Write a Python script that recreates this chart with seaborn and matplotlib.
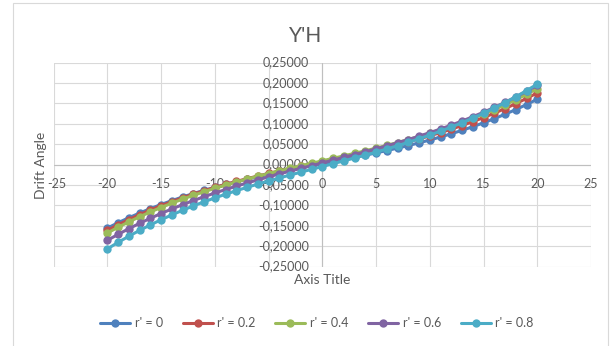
import matplotlib
matplotlib.use("Agg")
import matplotlib.pyplot as plt
from matplotlib.lines import Line2D
from matplotlib.patches import Rectangle
import pandas as pd
import seaborn as sns

# Drift angle sweep (degrees)
drift = list(range(-20, 21))

# Y'H for each yaw rate r'
yh_r00 = [-0.1560, -0.1429, -0.1306, -0.1191, -0.1083, -0.0981, -0.0886, -0.0797, -0.0713, -0.0634,
          -0.0560, -0.0490, -0.0424, -0.0361, -0.0301, -0.0244, -0.0188, -0.0135, -0.0083, -0.0031,
          0.0020, 0.0071, 0.0123, 0.0175, 0.0228, 0.0284, 0.0341, 0.0401, 0.0464, 0.0530,
          0.0600, 0.0674, 0.0753, 0.0837, 0.0926, 0.1021, 0.1123, 0.1231, 0.1346, 0.1469, 0.1600]
yh_r02 = [-0.1615, -0.1479, -0.1351, -0.1230, -0.1117, -0.1010, -0.0910, -0.0815, -0.0726, -0.0642,
          -0.0563, -0.0487, -0.0416, -0.0348, -0.0283, -0.0220, -0.0159, -0.0101, -0.0043, 0.0014,
          0.0070, 0.0126, 0.0183, 0.0241, 0.0299, 0.0360, 0.0423, 0.0488, 0.0556, 0.0627,
          0.0703, 0.0782, 0.0866, 0.0955, 0.1050, 0.1150, 0.1257, 0.1370, 0.1491, 0.1619, 0.1755]
yh_r04 = [-0.1680, -0.1540, -0.1407, -0.1282, -0.1165, -0.1054, -0.0949, -0.0850, -0.0757, -0.0669,
          -0.0585, -0.0506, -0.0430, -0.0358, -0.0288, -0.0221, -0.0156, -0.0093, -0.0032, 0.0029,
          0.0090, 0.0151, 0.0212, 0.0273, 0.0336, 0.0401, 0.0468, 0.0538, 0.0610, 0.0686,
          0.0765, 0.0849, 0.0937, 0.1030, 0.1129, 0.1234, 0.1345, 0.1462, 0.1587, 0.1720, 0.1860]
yh_r06 = [-0.1860, -0.1713, -0.1574, -0.1443, -0.1319, -0.1201, -0.1090, -0.0985, -0.0885, -0.0790,
          -0.0700, -0.0614, -0.0532, -0.0453, -0.0377, -0.0304, -0.0232, -0.0163, -0.0095, -0.0027,
          0.0040, 0.0107, 0.0175, 0.0243, 0.0312, 0.0384, 0.0457, 0.0533, 0.0612, 0.0694,
          0.0780, 0.0870, 0.0965, 0.1065, 0.1170, 0.1281, 0.1399, 0.1523, 0.1654, 0.1793, 0.1940]
yh_r08 = [-0.2070, -0.1910, -0.1759, -0.1616, -0.1482, -0.1355, -0.1236, -0.1123, -0.1016, -0.0915,
          -0.0820, -0.0729, -0.0643, -0.0560, -0.0481, -0.0405, -0.0331, -0.0259, -0.0189, -0.0119,
          -0.0050, 0.0019, 0.0089, 0.0159, 0.0231, 0.0305, 0.0381, 0.0460, 0.0543, 0.0629,
          0.0720, 0.0815, 0.0916, 0.1023, 0.1136, 0.1255, 0.1382, 0.1516, 0.1659, 0.1810, 0.1970]

series_names = ["r' = 0", "r' = 0.2", "r' = 0.4", "r' = 0.6", "r' = 0.8"]
series_colors = ["#4F81BD", "#C0504D", "#9BBB59", "#8064A2", "#4BACC6"]

x_ticks = [-25, -20, -15, -10, -5, 0, 5, 10, 15, 20, 25]
x_tick_labels = ["-25", "-20", "-15", "-10", "-5", "0", "5", "10", "15", "20", "25"]
y_ticks = [-0.25, -0.20, -0.15, -0.10, -0.05, 0.0, 0.05, 0.10, 0.15, 0.20, 0.25]
y_tick_labels = ["-0,25000", "-0,20000", "-0,15000", "-0,10000", "-0,05000", "0,00000",
                 "0,05000", "0,10000", "0,15000", "0,20000", "0,25000"]

chart_title = "Y'H"
x_title = "Axis Title"
y_title = "Drift Angle"

sns.set_theme(style="white")
plt.rcParams["font.family"] = ["Lato", "DejaVu Sans"]

TEXT = "#595959"
GRID = "#D9D9D9"
W, H = 616, 346

fig = plt.figure(figsize=(W / 100, H / 100), dpi=100)
fig.patch.set_facecolor("white")

# outer chart frame
fig.add_artist(Rectangle((12.5 / W, -0.05), (607.5 - 12.5) / W, 1.05 - 3.5 / H,
                         transform=fig.transFigure, fill=False, ec=GRID, lw=0.8))

left, right, top, bottom = 53.5, 591.0, 62.5, 266.5
ax = fig.add_axes([left / W, 1 - bottom / H, (right - left) / W, (bottom - top) / H])

frames = []
for name, vals in zip(series_names, [yh_r00, yh_r02, yh_r04, yh_r06, yh_r08]):
    frames.append(pd.DataFrame({"drift": drift, "yh": vals, "series": name}))
df = pd.concat(frames, ignore_index=True)

sns.lineplot(data=df, x="drift", y="yh", hue="series", hue_order=series_names,
             palette=series_colors, marker="o", markersize=6, markeredgewidth=0,
             linewidth=2.2, sort=False, legend=False, ax=ax, zorder=3)

ax.set_xlim(-25, 25)
ax.set_ylim(-0.25, 0.25)
ax.set_xticks(x_ticks)
ax.set_yticks(y_ticks)
ax.grid(True, color=GRID, lw=0.8)
ax.set_axisbelow(True)
for s in ax.spines.values():
    s.set_visible(False)
ax.tick_params(labelbottom=False, labelleft=False, length=0)
ax.set_xlabel("")
ax.set_ylabel("")

# axis lines crossing at the origin
ax.axhline(0, color="#BFBFBF", lw=0.8, zorder=1)
ax.axvline(0, color="#BFBFBF", lw=0.8, zorder=1)

# tick labels sit on the crossing axes
for xv, lab in zip(x_ticks, x_tick_labels):
    dx = 3 if xv == -25 else 0
    ax.annotate(lab, xy=(xv, 0), xytext=(dx, -19), textcoords="offset pixels",
                ha="center", va="center", fontsize=9, color=TEXT, zorder=2)
for yv, lab in zip(y_ticks, y_tick_labels):
    ax.annotate(lab, xy=(0, yv), xytext=(-13, 0), textcoords="offset pixels",
                ha="right", va="center", fontsize=9, color=TEXT, zorder=2)

fig.text(306 / W, 1 - 36 / H, chart_title, ha="center", va="center", fontsize=15, color=TEXT)
fig.text(322 / W, 1 - 280 / H, x_title, ha="center", va="center", fontsize=10, color=TEXT)
fig.text(41 / W, 1 - 165 / H, y_title, ha="center", va="center", rotation=90,
         fontsize=10, color=TEXT)

handles = [Line2D([], [], color=c, lw=2.2, marker="o", markersize=6, markeredgewidth=0)
           for c in series_colors]
fig.legend(handles, series_names, loc="center", bbox_to_anchor=(317 / W, 1 - 323 / H),
           ncol=5, frameon=False, fontsize=9, labelcolor=TEXT, handlelength=2.4,
           handletextpad=0.35, columnspacing=1.6)

fig.savefig("out.png", dpi=100, facecolor="white")
